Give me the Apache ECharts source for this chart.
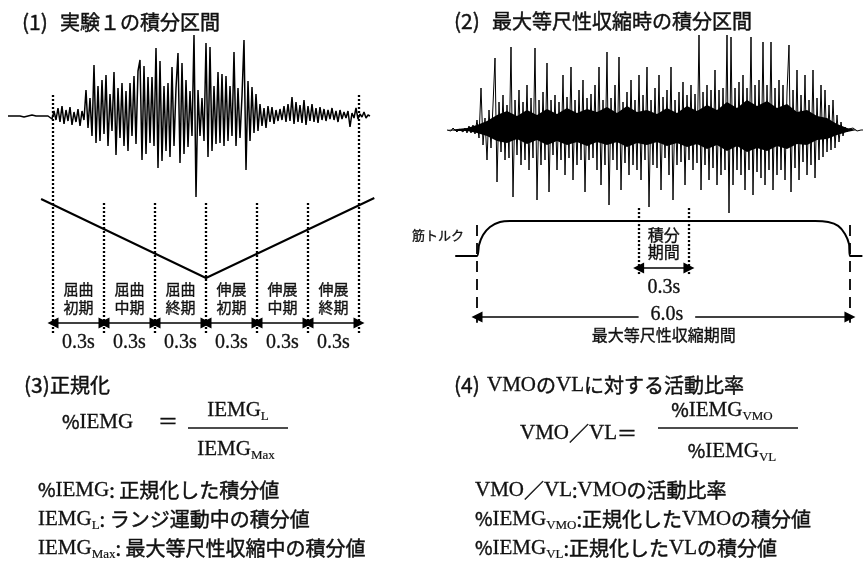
<!DOCTYPE html>
<html><head><meta charset="utf-8">
<script src="https://cdn.jsdelivr.net/npm/echarts@6/dist/echarts.min.js"></script>
<style>html,body{margin:0;padding:0;background:#fff}#c{width:864px;height:564px}</style>
</head><body><div id="c"></div>
<script>
// ---- data ----
// (1) EMG during lunge, amplitude per sample
const emg1 = [
 0,1,0,-1,0,1,0,0,-1,1,0,0,1,-1,0,1,0,-1,0,1,0,
 2,-3,5,-4,8,-6,10,-8,6,-5,9,-9,4,-6,7,-10,5,-4,
 26,-12,18,-20,51,-27,30,
 -25,36,-18,41,-30,22,-15,
 44,-39,28,-22,33,-30,
 25,-35,33,-20,40,-28,45,
 56,-44,50,-38,39,
 -27,39,-30,68,-52,
 55,-45,30,-35,
 33,-41,49,-30,28,
 63,-47,53,-38,
 36,-31,25,-20,81,
 -81,26,
 -20,18,-25,73,-41,
 69,-35,30,-28,
 44,-27,42,-30,40,
 -25,30,-20,64,-30,
 28,-22,20,76,-54,
 35,-25,29,-17,22,-15,12,
 -10,8,-12,10,-6,9,-8,6,-5,
 7,-4,10,-6,12,-5,19,-8,14,-6,11,-7,16,-9,10,-5,12,-6,8,-7,9,-4,7,-5,6,-3,8,-4,5,-6,6,-3,4,-2,5,
 -11,3,-2,8,-3,2,-1,4,-2,1,0
];
// (2) EMG during maximal isometric contraction: spikes per sample
const emg2 = [
 0,1,-1,2,0,-2,1,3,-2,2,-3,4,-3,5,-4,
 10,-8,42,-15,12,-30,20,-18,25,
 72,-52,28,-22,35,-30,25,-28,83,-67,30,-25,40,-35,28,-30,45,-40,32,-28,82,-70,30,-35,38,-30,
 67,-62,30,-25,35,-40,28,-30,55,-45,33,-28,63,-50,30,-35,40,-30,50,-62,32,-30,36,-28,45,-40,63,-55,30,-35,
 78,-75,32,-30,45,-40,73,-60,28,-33,38,-45,50,-35,30,-40,55,
 -50,35,-30,63,-77,30,-35,42,-38,55,-60,33,-28,40,-45,63,-70,30,-35,38,-32,48,-55,35,-30,45,-40,36,-33,
 95,-60,38,-35,45,-50,40,-38,60,-55,40,-45,42,-40,95,-83,
 93,-55,42,-40,48,-45,55,-60,42,-40,93,-65,45,-42,50,
 -48,88,-55,45,-40,88,-60,42,-45,50,-40,45,-50,38,85,
 -62,40,-38,60,-50,35,-32,55,-45,30,-35,60,-48,32,-30,45,
 -27,40,-22,25,-20,30,-18,15,-12,8,-6,
 3,-2,1,-1,2,0,-1,1,0,0
];
// (2) dense core of the EMG burst: ragged envelope every 5 samples
const coreIdx   = [0,5,10,15,20,25,30,35,40,45,50,55,60,65,70,75,80,85,90,95,100,105,110,115,120,125,130,135,140,145,150,155,160,165,170,175,180,185,190,195,200,205,208];
const coreUpper = [0,1,2,5,9,15,19,14,20,15,21,16,22,17,21,18,23,17,24,18,20,16,22,17,24,19,25,20,28,22,30,24,29,22,26,18,20,14,12,6,2,0,0];
const coreLower = [0,-1,-1,-3,-6,-11,-13,-9,-14,-10,-15,-11,-15,-12,-16,-12,-15,-12,-17,-13,-15,-12,-16,-13,-17,-14,-19,-15,-21,-16,-22,-18,-21,-16,-19,-14,-15,-10,-9,-5,-2,0,0];
// (1) joint angle trace (time s, angle)
const vTimes = [-0.07, 0.9, 1.89];
const vAngles = [67, 27.5, 67.5];
// (1) phase boundaries and labels
const phaseBounds = [0, 0.3, 0.6, 0.9, 1.2, 1.5, 1.8];
const phaseLabels = ['屈曲\n初期','屈曲\n中期','屈曲\n終期','伸展\n初期','伸展\n中期','伸展\n終期'];
const phaseDuration = '0.3s';
// (2) muscle torque trace (time s, %)
const torqueTimes  = [-0.35, 0, 0.032, 0.097, 0.209, 0.37, 0.53, 5.44, 5.65, 5.81, 5.92, 5.985, 6.0, 6.2];
const torqueValues = [0, 0, 31, 60, 83, 97, 100, 100, 97, 86, 63, 34, 0, 0];
const contraction = [0, 6.0];
const integWindow = [2.6, 3.41];

// ---- styles ----
const CJK = '"Noto Sans CJK JP"';
const SERIF = '"Liberation Serif"';
const INK = '#111';
const SW = 0.45;
const RICH = {
  s:   {fontFamily: SERIF, fontSize: 21, lineHeight: 26, fill: INK, stroke: INK, lineWidth: 0.3},
  sub: {fontFamily: SERIF, fontSize: 13, lineHeight: 10, verticalAlign: 'bottom', fill: INK, stroke: INK, lineWidth: 0.2},
  c:   {fontFamily: CJK, fontSize: 20, lineHeight: 26, fill: INK, stroke: INK, lineWidth: SW},
  p:   {fontFamily: CJK, fontSize: 19, lineHeight: 26, fill: INK, stroke: INK, lineWidth: SW}
};
function T(x, y, text, o) {
  o = o || {};
  const al = o.align || 'left';
  return {type: 'text', x: x, y: y, silent: true, z: 10,
    style: {text: text, fill: INK, stroke: INK, lineWidth: o.sw != null ? o.sw : SW,
      font: o.font || ('20px ' + CJK),
      align: al, textAlign: al, verticalAlign: 'middle', textVerticalAlign: 'middle',
      lineHeight: o.lh, rich: RICH}};
}
function L(x1, y1, x2, y2, w) {
  return {type: 'line', silent: true, shape: {x1: x1, y1: y1, x2: x2, y2: y2},
    style: {stroke: INK, lineWidth: w || 1.3}};
}
const dot = {type: [2, 2], width: 2.3, color: '#000'};
const dash = {type: [11, 7], width: 1.8, color: '#000'};
const arrowStyle = {type: 'solid', width: 1.5, color: '#000'};
const HEAD = 'triangle';

const chart = echarts.init(document.getElementById('c'), null, {renderer: 'canvas'});

const p1Lines = phaseBounds.map((t, i) => {
  const top = (i === 0 || i === phaseBounds.length - 1) ? 119 : 65.5;
  return [{coord: [t, 0], symbol: 'none', lineStyle: dot}, {coord: [t, top], symbol: 'none'}];
});
const p1Arrows = phaseBounds.slice(0, -1).map((t, i) => [
  {coord: [t, 5], symbol: HEAD, lineStyle: arrowStyle},
  {coord: [phaseBounds[i + 1], 5], symbol: HEAD}]);

const p2Lines = [
  [{coord: [contraction[0], 88.6], symbol: 'none', lineStyle: dash}, {coord: [contraction[0], -191], symbol: 'none'}],
  [{coord: [contraction[1], 88.6], symbol: 'none', lineStyle: dash}, {coord: [contraction[1], -191], symbol: 'none'}],
  [{coord: [integWindow[0], 137], symbol: 'none', lineStyle: dot}, {coord: [integWindow[0], -54], symbol: 'none'}],
  [{coord: [integWindow[1], 137], symbol: 'none', lineStyle: dot}, {coord: [integWindow[1], -54], symbol: 'none'}],
  [{coord: [integWindow[0], -34], symbol: HEAD, lineStyle: arrowStyle}, {coord: [integWindow[1], -34], symbol: HEAD}],
  [{coord: [contraction[0], -174], symbol: HEAD, lineStyle: arrowStyle}, {coord: [2.6, -174], symbol: 'none'}],
  [{coord: [3.51, -174], symbol: 'none', lineStyle: arrowStyle}, {coord: [contraction[1], -174], symbol: HEAD}]
];

const hide = {show: false};
const mk = (data) => ({silent: true, symbolSize: 11, label: hide, emphasis: {disabled: true}, data: data});
const option = {
  animation: false,
  backgroundColor: '#fff',
  grid: [
    {left: 8, top: 31, width: 362, height: 170},
    {left: 2, top: 95, width: 374, height: 238},
    {left: 447, top: 33, width: 416, height: 194},
    {left: 445.9, top: 203.5, width: 416.5, height: 140}
  ],
  xAxis: [
    {gridIndex: 0, type: 'value', min: 0, max: emg1.length - 1, show: false},
    {gridIndex: 1, type: 'value', min: -0.3, max: 1.9, show: false},
    {gridIndex: 2, type: 'value', min: 0, max: emg2.length - 1, show: false},
    {gridIndex: 3, type: 'value', min: -0.5, max: 6.2, show: false}
  ],
  yAxis: [
    {gridIndex: 0, type: 'value', min: -85, max: 85, show: false},
    {gridIndex: 1, type: 'value', min: 0, max: 119, show: false},
    {gridIndex: 2, type: 'value', min: -97, max: 97, show: false},
    {gridIndex: 3, type: 'value', min: -250, max: 150, show: false}
  ],
  series: [
    {type: 'line', xAxisIndex: 0, yAxisIndex: 0, data: emg1.map((v, i) => [i, v]),
     symbol: 'none', silent: true, clip: false, lineStyle: {color: '#000', width: 1.5}},
    {type: 'line', xAxisIndex: 1, yAxisIndex: 1, data: vTimes.map((t, i) => [t, vAngles[i]]),
     symbol: 'none', silent: true, clip: false, lineStyle: {color: '#000', width: 2},
     markLine: mk(p1Lines.concat(p1Arrows))},
    {type: 'line', xAxisIndex: 2, yAxisIndex: 2, data: coreIdx.map((x, i) => [x, coreUpper[i]]),
     symbol: 'none', silent: true, clip: false, lineStyle: {width: 0, opacity: 0},
     areaStyle: {color: '#000', opacity: 1, origin: 0}},
    {type: 'line', xAxisIndex: 2, yAxisIndex: 2, data: coreIdx.map((x, i) => [x, coreLower[i]]),
     symbol: 'none', silent: true, clip: false, lineStyle: {width: 0, opacity: 0},
     areaStyle: {color: '#000', opacity: 1, origin: 0}},
    {type: 'line', xAxisIndex: 2, yAxisIndex: 2, data: emg2.map((v, i) => [i, v]),
     symbol: 'none', silent: true, clip: false, lineStyle: {color: '#000', width: 1}},
    {type: 'line', xAxisIndex: 3, yAxisIndex: 3, data: torqueTimes.map((t, i) => [t, torqueValues[i]]),
     symbol: 'none', silent: true, clip: false, smooth: 0.2, lineStyle: {color: '#000', width: 2},
     markLine: mk(p2Lines)}
  ]
};
chart.setOption(option);

// ---- annotations ----
const px1 = (t, v) => chart.convertToPixel({gridIndex: 1}, [t, v]);
const px3 = (t, v) => chart.convertToPixel({gridIndex: 3}, [t, v]);
const g = [];
// titles
g.push(T(22, 22, '(1)', {font: '21px ' + CJK}), T(60, 22, '実験１の積分区間'));
g.push(T(454, 21, '(2)', {font: '21px ' + CJK}), T(492, 21, '最大等尺性収縮時の積分区間'));
g.push(T(24, 385, '(3)', {font: '21px ' + CJK}), T(50, 385, '正規化'));
g.push(T(454, 385, '(4)', {font: '21px ' + CJK}), T(487, 385, '{s|VMO}{c|の}{s|VL}{c|に対する活動比率}'));
// panel 1 phase labels
phaseLabels.forEach((lab, i) => {
  const mid = (phaseBounds[i] + phaseBounds[i + 1]) / 2;
  const a = px1(mid, 17.5), b = px1(mid, -5);
  g.push(T(a[0], a[1], lab, {align: 'center', font: '15px ' + CJK, lh: 18, sw: 0.35}));
  g.push(T(b[0], b[1], phaseDuration, {align: 'center', font: '20px ' + SERIF, sw: 0.3}));
});
// panel 2 labels
const wm = (integWindow[0] + integWindow[1]) / 2;
let q = px3(wm, 37);
g.push(T(q[0], q[1], '積分\n期間', {align: 'center', font: '16px ' + CJK, lh: 17, sw: 0.35}));
q = px3(wm, -91);
g.push(T(q[0], q[1], '0.3s', {align: 'center', font: '20px ' + SERIF, sw: 0.3}));
q = px3(3.055, -168);
g.push(T(q[0], q[1], '6.0s', {align: 'center', font: '20px ' + SERIF, sw: 0.3}));
q = px3(wm, -226);
g.push(T(q[0], q[1], '最大等尺性収縮期間', {align: 'center', font: '16px ' + CJK, sw: 0.35}));
g.push(T(464, 235, '筋トルク', {align: 'right', font: '13px ' + CJK, sw: 0.3}));
// panel 3 formula
g.push(T(62, 422, '{p|%}{s|IEMG}'));
g.push(T(158, 421, '＝'));
g.push(T(238, 410, '{s|IEMG}{sub|L}', {align: 'center'}));
g.push(L(188, 428, 288, 428));
g.push(T(236, 449, '{s|IEMG}{sub|Max}', {align: 'center'}));
// panel 4 formula
g.push(T(520, 433, '{s|VMO}{c|／}{s|VL}{c|＝}'));
g.push(T(722, 410, '{p|%}{s|IEMG}{sub|VMO}', {align: 'center'}));
g.push(L(658, 428, 798, 428));
g.push(T(732, 451, '{p|%}{s|IEMG}{sub|VL}', {align: 'center'}));
// definitions
g.push(T(38, 490, '{p|%}{s|IEMG}{c|: 正規化した積分値}'));
g.push(T(38, 519, '{s|IEMG}{sub|L}{c|: ランジ運動中の積分値}'));
g.push(T(38, 548, '{s|IEMG}{sub|Max}{c|: 最大等尺性収縮中の積分値}'));
g.push(T(475, 490, '{s|VMO}{c|／}{s|VL}{c|:}{s|VMO}{c|の活動比率}'));
g.push(T(475, 519, '{p|%}{s|IEMG}{sub|VMO}{c|:正規化した}{s|VMO}{c|の積分値}'));
g.push(T(475, 548, '{p|%}{s|IEMG}{sub|VL}{c|:正規化した}{s|VL}{c|の積分値}'));

chart.setOption({graphic: g});
</script>
</body></html>
